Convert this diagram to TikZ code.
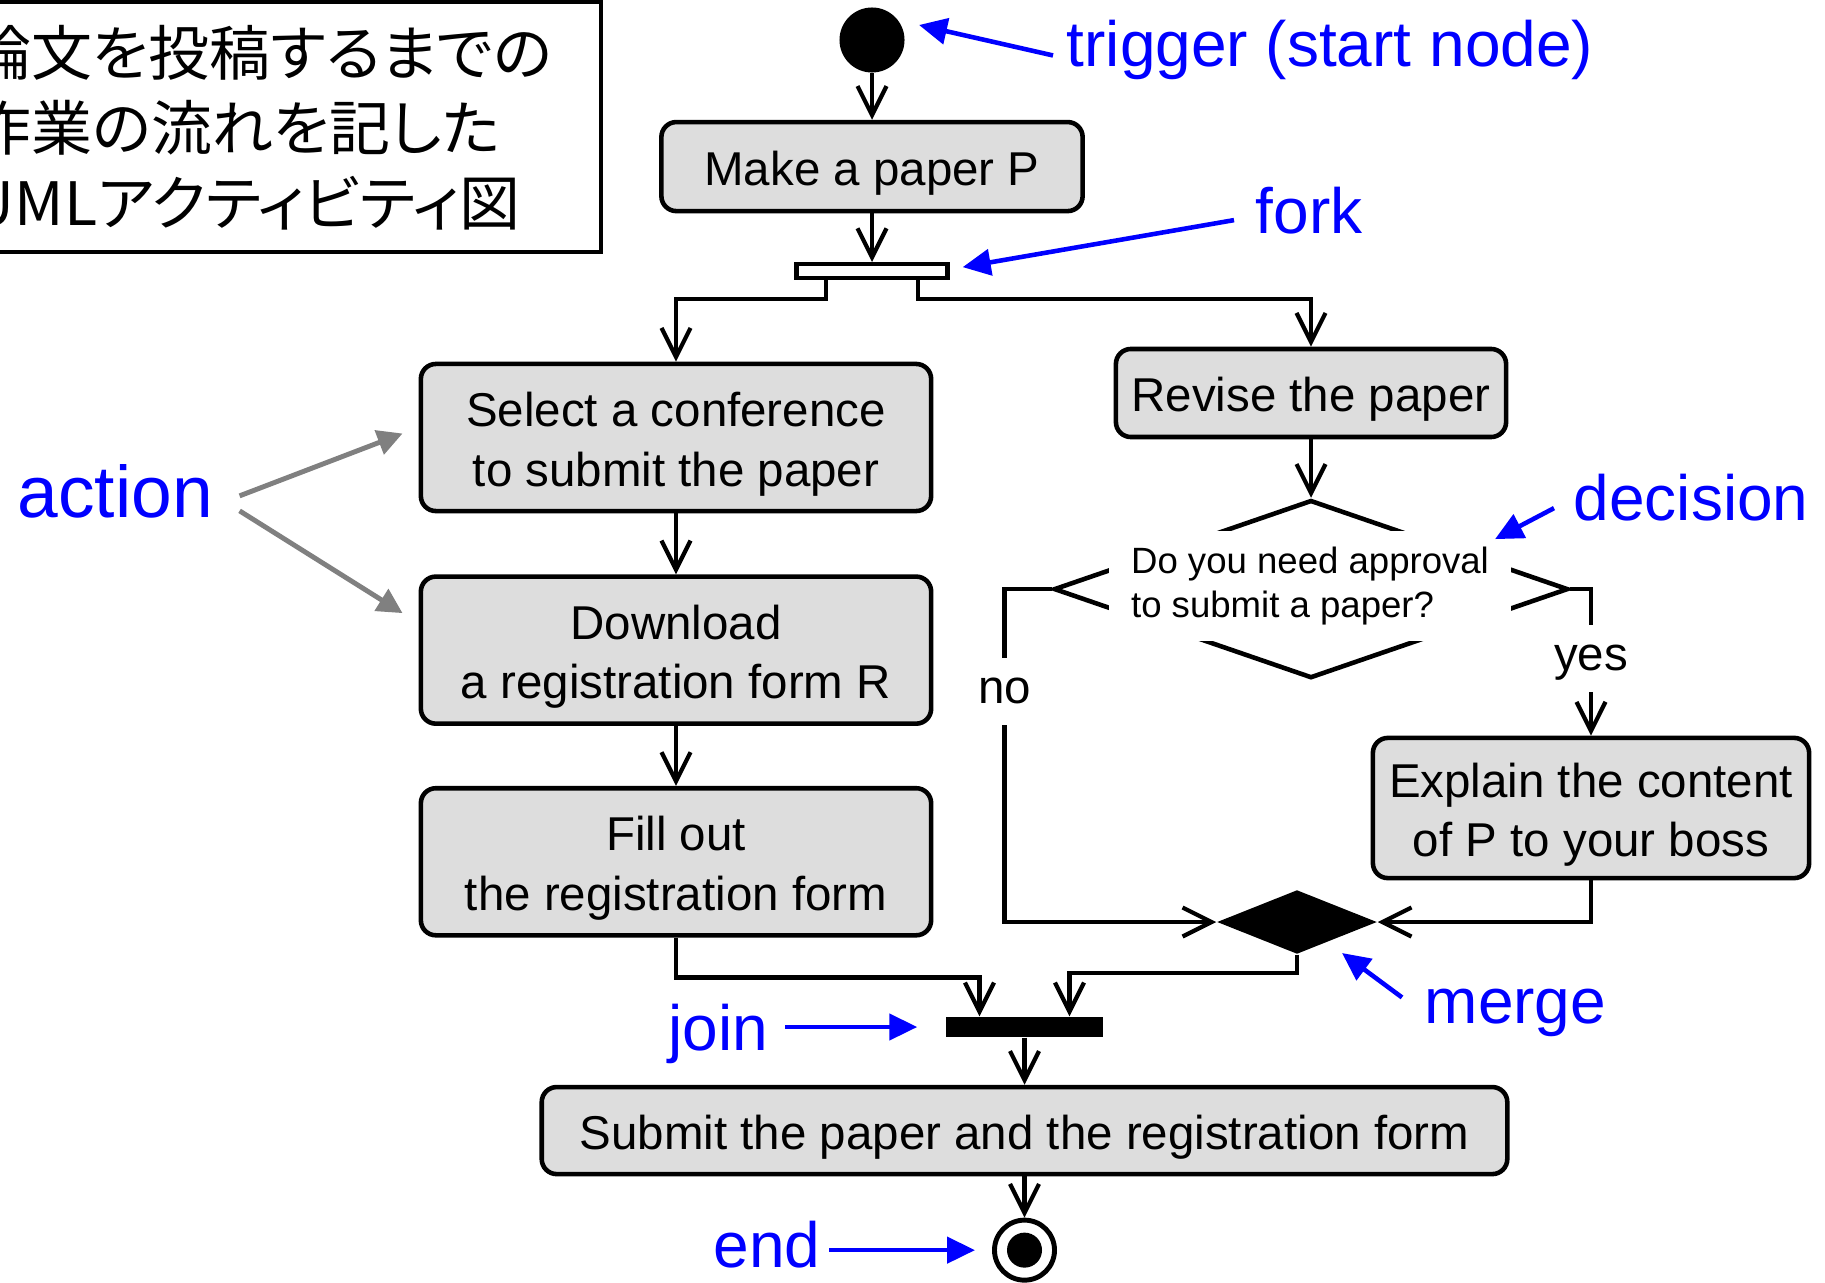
\documentclass[tikz,border=0pt]{standalone}
\usepackage{fontspec}
\setmainfont{Liberation Sans}
\newfontfamily\jpfont{Noto Sans CJK JP}[RawFeature=+palt, FakeStretch=1.02]
\usetikzlibrary{shapes.geometric, arrows.meta, positioning, calc}

\definecolor{boxgray}{RGB}{221,221,221}
\definecolor{noteblue}{RGB}{0,0,255}
\definecolor{notegray}{RGB}{128,128,128}

\newcommand{\actfont}{\fontsize{13.5pt}{16.9pt}\selectfont}
\newcommand{\qfont}{\fontsize{10.4pt}{12.7pt}\selectfont}
\newcommand{\notefont}{\fontsize{18.2pt}{22pt}\selectfont}
\newcommand{\bignotefont}{\fontsize{20.8pt}{25pt}\selectfont}
\newcommand{\titlefont}{\jpfont\fontsize{17pt}{21.3pt}\selectfont}
\newcommand{\tline}{\rule{0pt}{1em}}

\begin{document}
\begin{tikzpicture}[
  x=0.01cm, y=-0.01cm,
  actnode/.style={rectangle, rounded corners=0.15cm, draw, line width=1.3pt, fill=boxgray, align=center, font=\actfont},
  startnode/.style={circle, fill=black, minimum size=0.65cm, inner sep=0pt},
  endnode/.style={circle, draw, line width=1.4pt, minimum size=0.6cm, inner sep=0pt,
    path picture={\fill (path picture bounding box.center) circle (0.175cm);}},
  forkbar/.style={rectangle, draw, fill=white, line width=1.2pt, minimum width=1.51cm, minimum height=0.14cm, inner sep=0pt},
  joinbar/.style={rectangle, fill=black, minimum width=1.57cm, minimum height=0.2cm, inner sep=0pt},
  decnode/.style={diamond, draw, line width=1.3pt, minimum width=5.14cm, minimum height=1.78cm, inner sep=0pt},
  mergenode/.style={diamond, fill=black, minimum width=1.6cm, minimum height=0.64cm, inner sep=0pt},
  qnode/.style={fill=white, align=left, font=\qfont, inner xsep=0.22cm, inner ysep=0.1cm, minimum height=1.1cm},
  branch/.style={fill=white, font=\actfont, text height=0.85em, text depth=0.15em, inner xsep=0.05cm, inner ysep=0.16cm},
  titlenode/.style={anchor=north west, align=left, font=\titlefont, inner sep=0pt},
  notelabel/.style={text=noteblue, font=\notefont, inner sep=0pt, anchor=base west},
  flow/.style={-{Straight Barb[length=0.29cm, width=0.29cm]}, line width=1.2pt},
  note/.style={-{Triangle[length=0.28cm, width=0.26cm]}, line width=1.3pt, color=noteblue},
  pointer/.style={-{Triangle[length=0.25cm, width=0.25cm]}, line width=1.4pt, color=notegray}
]
\useasboundingbox (0,0) rectangle (1825,1282);
\clip (0,0) rectangle (1825,1282);

% title box
\draw[line width=1.3pt] (-100,2) rectangle (601,252);
\node[titlenode] (title) at (-30,25) {論文を投稿するまでの\\作業の流れを記した\\UMLアクティビティ図};

% activity nodes
\node[startnode] (start) at (872,40) {};
\node[actnode, below of=start, node distance=1.265cm, minimum width=4.21cm, minimum height=0.89cm] (make) {\tline Make a paper P};
\node[forkbar, below of=make, node distance=1.045cm] (fork) {};

\node[actnode, minimum width=5.10cm, minimum height=1.47cm] (select) at (676,437.5) {\tline Select a conference\\to submit the paper};
\node[actnode, below of=select, node distance=2.125cm, minimum width=5.10cm, minimum height=1.47cm] (download) {\tline Download\\a registration form R};
\node[actnode, below of=download, node distance=2.115cm, minimum width=5.10cm, minimum height=1.47cm] (fillout) {\tline Fill out\\the registration form};

\node[actnode, minimum width=3.90cm, minimum height=0.88cm] (revise) at (1311,393) {\tline Revise the paper};
\node[decnode, below of=revise, node distance=1.96cm] (decision) {};
\node[qnode] (question) at (1310,586) {Do you need approval\\to submit a paper?};
\node[actnode, minimum width=4.36cm, minimum height=1.32cm] (explain) at (1591,808) {\tline Explain the content\\of P to your boss};
\node[mergenode] (merge) at (1297,922) {};

\node[joinbar] (join) at (1024.5,1027) {};
\node[actnode, below of=join, node distance=1.035cm, minimum width=9.65cm, minimum height=0.87cm] (submit) {\tline Submit the paper and the registration form};
\node[endnode, below of=submit, node distance=1.195cm] (end) {};

% control flow
\draw[flow] (start) -- (make);
\draw[flow] (make) -- (fork);
\draw[flow] ($(fork.south)+(-46,0)$) -- ++(0,19) -| (select.north);
\draw[flow] ($(fork.south)+(46,0)$) -- ++(0,19) -| (revise.north);
\draw[flow] (select) -- (download);
\draw[flow] (download) -- (fillout);
\draw[flow] (revise) -- (decision);
\draw[flow] (decision.west) -- ++(-47,0) |- node[pos=0.154, branch] (no) {no} (merge.west);
\draw[flow] (decision.east) -| node[pos=0.737, branch] (yes) {yes} (explain.north);
\draw[flow] (explain.south) |- (merge.east);
\draw[flow] (merge.south) -- ++(0,18) -| ($(join.north)+(45,0)$);
\draw[flow] (fillout.south) -- ++(0,40) -| ($(join.north)+(-45,0)$);
\draw[flow] (join) -- (submit);
\draw[flow] (submit) -- (end);

% annotations
\node[notelabel] (trigger) at (1066,67) {trigger (start node)};
\node[notelabel] (forklabel) at (1255,233) {fork};
\node[notelabel] (declabel) at (1573,520) {decision};
\node[notelabel, font=\bignotefont] (action) at (17,517) {action};
\node[notelabel] (joinlabel) at (668,1050) {join};
\node[notelabel] (mergelabel) at (1424,1023) {merge};
\node[notelabel] (endlabel) at (713,1267) {end};

\draw[note] ($(trigger.west)+(-13,5)$) -- ($(start)+(47,-15)$);
\draw[note] ($(forklabel.west)+(-21,10)$) -- ($(fork.east)+(13,-4)$);
\draw[note] ($(declabel.west)+(-19,11)$) -- ($(decision)+(184,-50)$);
\draw[pointer] ($(action.east)+(26,5)$) -- ($(select.west)+(-16,-4)$);
\draw[pointer] ($(action.east)+(26,20)$) -- ($(download.west)+(-16,-37)$);
\draw[note] ($(joinlabel.east |- join.west)+(16,0)$) -- ($(join.west)+(-28,0)$);
\draw[note] ($(mergelabel.west)+(-22,-15)$) -- ($(merge)+(45,31)$);
\draw[note] ($(endlabel.east |- end.west)+(8,0)$) -- ($(end.west)+(-17,0)$);
\end{tikzpicture}
\end{document}
